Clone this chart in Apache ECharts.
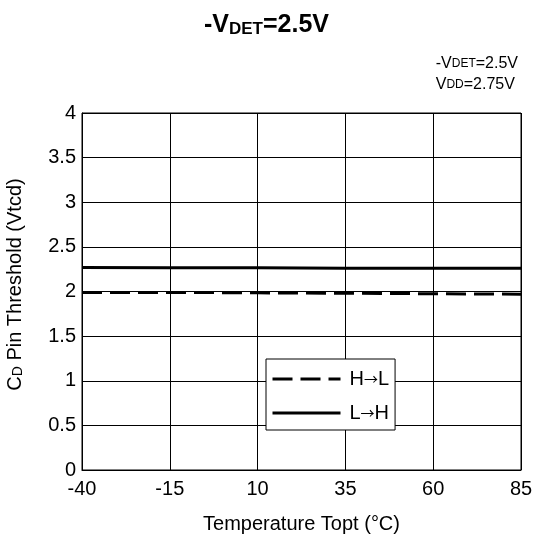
<!DOCTYPE html>
<html>
<head>
<meta charset="utf-8">
<script src="https://cdn.jsdelivr.net/npm/echarts@6/dist/echarts.min.js"></script>
<style>
    html, body { margin: 0; padding: 0; background: #fff; }
    #chart { width: 533px; height: 535px; }
</style>
</head>
<body>
<div id="chart"></div>
<script>
    // temperature (°C) along x
    var temps = ['-40', '-15', '10', '35', '60', '85'];
    // H->L threshold (dashed) and L->H threshold (solid)
    var hToL = [1.99, 1.99, 1.985, 1.98, 1.975, 1.97];
    var lToH = [2.27, 2.265, 2.265, 2.26, 2.26, 2.26];
    var yTicks = [0, 0.5, 1, 1.5, 2, 2.5, 3, 3.5, 4];

    var font = '"Liberation Sans", Arial, sans-serif';

    var myChart = echarts.init(document.getElementById('chart'));

    var option = {
        backgroundColor: '#fff',
        animation: false,
        title: {
            text: '{b|-V}{s|DET}{b|=2.5V}',
            left: 'center',
            top: 8,
            textStyle: {
                rich: {
                    b: { fontFamily: font, fontSize: 25, fontWeight: 'bold', color: '#000' },
                    s: { fontFamily: font, fontSize: 17, fontWeight: 'bold', color: '#000', verticalAlign: 'bottom', padding: [7, 0, 0, 0] }
                }
            }
        },
        graphic: [
            {
                // condition note, top right
                type: 'text',
                right: 15,
                top: 56,
                style: {
                    text: '{n|-V}{s|DET}{n|=2.5V}\n{n|V}{s|DD}{n|=2.75V}',
                    align: 'right',
                    rich: {
                        n: { fontFamily: font, fontSize: 16, color: '#000', lineHeight: 21 },
                        s: { fontFamily: font, fontSize: 12, color: '#000', lineHeight: 21 }
                    }
                }
            }
        ],
        grid: {
            left: 82,
            right: 12,
            top: 113,
            bottom: 65,
            outerBoundsMode: 'none',
            containLabel: false,
            show: true,
            borderColor: '#000',
            borderWidth: 1
        },
        legend: {
            orient: 'vertical',
            left: 266,
            top: 359,
            padding: [10, 6, 7, 5],
            itemWidth: 68,
            itemHeight: 20,
            itemGap: 14,
            backgroundColor: '#fff',
            borderColor: '#000',
            borderWidth: 1,
            borderRadius: 0,
            itemStyle: { opacity: 0 },
            lineStyle: { width: 3 },
            formatter: function (name) {
                var parts = name.split('\u2192');
                return '{t|' + parts[0] + '}{a|\u2192}{t|' + parts[1] + '}';
            },
            textStyle: {
                padding: [0, 0, 0, 4],
                rich: {
                    t: { fontFamily: font, fontSize: 20, color: '#000' },
                    a: { fontFamily: '"Noto Sans CJK JP", "DejaVu Sans", sans-serif', fontSize: 14, color: '#000' }
                }
            },
            data: ['H\u2192L', 'L\u2192H']
        },
        xAxis: {
            type: 'category',
            data: temps,
            boundaryGap: false,
            name: 'Temperature Topt (\u00B0C)',
            nameLocation: 'middle',
            nameGap: 44,
            nameTextStyle: { fontFamily: font, fontSize: 20, color: '#000' },
            axisLine: { lineStyle: { color: '#000', width: 1 } },
            axisTick: { show: false },
            axisLabel: { fontFamily: font, fontSize: 20, color: '#000', margin: 9 },
            splitLine: { show: true, lineStyle: { color: '#000', width: 1 } }
        },
        yAxis: {
            type: 'value',
            min: yTicks[0],
            max: yTicks[yTicks.length - 1],
            interval: 0.5,
            name: '{n|C}{s|D}{n| Pin Threshold (Vtcd)}',
            nameLocation: 'middle',
            nameGap: 57,
            nameTextStyle: {
                padding: [0, 0, 0, 14],
                rich: {
                    n: { fontFamily: font, fontSize: 20, color: '#000' },
                    s: { fontFamily: font, fontSize: 14, color: '#000', verticalAlign: 'bottom' }
                }
            },
            axisLine: { show: true, lineStyle: { color: '#000', width: 1 } },
            axisTick: { show: false },
            axisLabel: { fontFamily: font, fontSize: 20, color: '#000', margin: 6 },
            splitLine: { show: true, lineStyle: { color: '#000', width: 1 } }
        },
        series: [
            {
                name: 'H\u2192L',
                type: 'line',
                data: hToL,
                symbol: 'none',
                color: '#000',
                lineStyle: { color: '#000', width: 3, type: [20, 8] },
                z: 3
            },
            {
                name: 'L\u2192H',
                type: 'line',
                data: lToH,
                symbol: 'none',
                color: '#000',
                lineStyle: { color: '#000', width: 3 },
                z: 3
            }
        ]
    };

    myChart.setOption(option);
</script>
</body>
</html>
